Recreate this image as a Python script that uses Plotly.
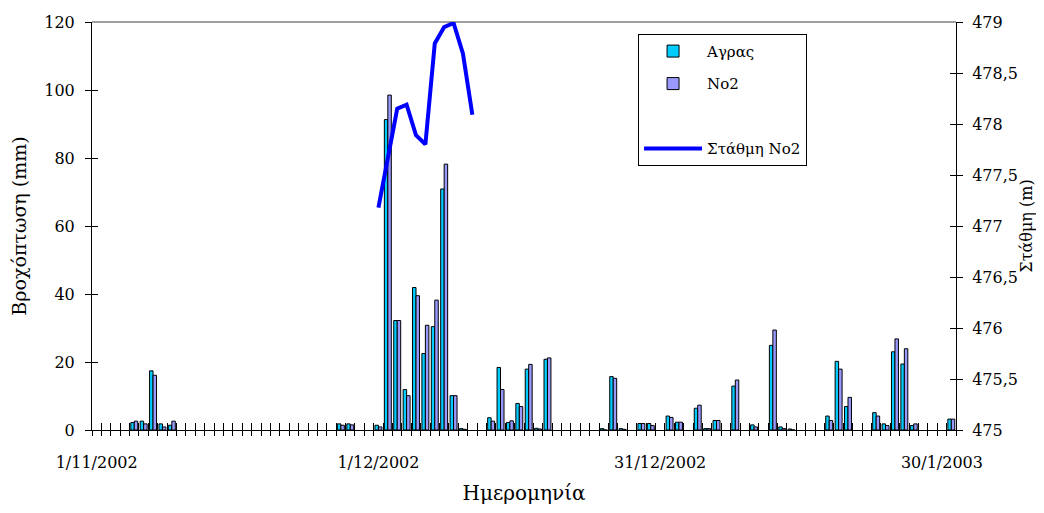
import plotly.graph_objects as go

# ---------------- data ----------------
rain_dates = [
    "2002-11-05", "2002-11-06", "2002-11-07", "2002-11-08", "2002-11-09",
    "2002-11-27", "2002-11-28",
    "2002-12-01", "2002-12-02", "2002-12-03", "2002-12-04", "2002-12-05",
    "2002-12-06", "2002-12-07", "2002-12-08", "2002-12-09", "2002-12-10",
    "2002-12-13", "2002-12-14", "2002-12-15", "2002-12-16", "2002-12-17",
    "2002-12-18", "2002-12-19", "2002-12-25", "2002-12-26", "2002-12-27",
    "2002-12-29", "2002-12-30",
    "2003-01-01", "2003-01-02", "2003-01-04", "2003-01-05", "2003-01-06",
    "2003-01-08", "2003-01-10", "2003-01-12", "2003-01-13", "2003-01-14",
    "2003-01-18", "2003-01-19", "2003-01-20", "2003-01-23", "2003-01-24",
    "2003-01-25", "2003-01-26", "2003-01-27", "2003-01-31",
]
agras = [
    2.2, 2.6, 17.4, 1.8, 1.4,
    1.8, 1.8,
    1.4, 91.3, 32.2, 11.9, 41.9,
    22.5, 30.4, 70.9, 10.1, 0.4,
    3.6, 18.4, 2.2, 7.8, 17.9,
    0.5, 20.8, 0.4, 15.7, 0.4,
    1.9, 1.9,
    4.1, 2.3, 6.4, 0.4, 2.8,
    12.9, 1.5, 24.9, 0.9, 0.3,
    4.1, 20.2, 6.9, 5.1, 1.8,
    23.0, 19.4, 1.3, 3.2,
]
no2 = [
    2.6, 1.8, 16.1, 0.9, 2.6,
    1.4, 1.5,
    0.9, 98.5, 32.2, 10.1, 39.5,
    30.8, 38.2, 78.2, 10.1, 0.2,
    2.6, 11.9, 2.7, 6.9, 19.3,
    0.3, 21.2, 0.0, 15.2, 0.2,
    1.9, 1.3,
    3.7, 2.3, 7.3, 0.4, 2.8,
    14.7, 0.9, 29.4, 0.4, 0.0,
    2.8, 17.9, 9.6, 4.1, 1.3,
    26.8, 23.9, 1.8, 3.2,
]

level_dates = [
    "2002-12-01", "2002-12-02", "2002-12-03", "2002-12-04", "2002-12-05",
    "2002-12-06", "2002-12-07", "2002-12-08", "2002-12-09", "2002-12-10",
    "2002-12-11",
]
level_no2 = [477.18, 477.65, 478.15, 478.19, 477.89, 477.80, 478.79,
             478.95, 478.99, 478.69, 478.09]

x_tick_dates = ["2002-11-01", "2002-12-01", "2002-12-31", "2003-01-30"]
x_tick_text = ["1/11/2002", "1/12/2002", "31/12/2002", "30/1/2003"]

y2_tick_vals = [475, 475.5, 476, 476.5, 477, 477.5, 478, 478.5, 479]
y2_tick_text = ["475", "475,5", "476", "476,5", "477", "477,5", "478", "478,5", "479"]

# ---------------- figure ----------------
FONT = "DejaVu Serif"
x_range = ["2002-10-31 12:00", "2003-01-31 12:00"]
DAY_MS = 86400000

fig = go.Figure()
fig.add_trace(go.Bar(
    x=rain_dates, y=agras, name="Αγρας", legendgroup="a",
    marker=dict(color="#00CCFF", line=dict(color="black", width=1)),
))
fig.add_trace(go.Bar(
    x=rain_dates, y=no2, name="Νο2", legendgroup="b",
    marker=dict(color="#9999FF", line=dict(color="black", width=1)),
))
fig.add_trace(go.Scatter(
    x=[None], y=[None], name=" ", legendgroup="c", mode="lines",
    line=dict(width=0, color="rgba(0,0,0,0)"), yaxis="y2",
))
fig.add_trace(go.Scatter(
    x=level_dates, y=level_no2, name="Στάθμη Νο2", legendgroup="d",
    mode="lines", line=dict(color="#0000FF", width=4), yaxis="y2",
))
# dummy traces for the inner half of the "cross" tick marks
fig.add_trace(go.Scatter(x=[x_tick_dates[0]], y=[None], xaxis="x3", yaxis="y3",
                         showlegend=False, hoverinfo="skip"))
fig.add_trace(go.Scatter(x=[x_tick_dates[0]], y=[None], xaxis="x3", yaxis="y4",
                         showlegend=False, hoverinfo="skip"))

# the page body has an 8px margin, so the figure is sized to fit the window
fig.update_layout(
    width=1028, height=497,
    margin=dict(l=84, r=80, t=14, b=75),
    paper_bgcolor="white", plot_bgcolor="white",
    font=dict(family=FONT, size=16, color="black"),
    barmode="group", bargap=0.26, bargroupgap=0,
    showlegend=True,
    legend=dict(
        x=0.632, y=0.971, xanchor="left", yanchor="top",
        bgcolor="white", bordercolor="black", borderwidth=1,
        font=dict(family=FONT, size=15), traceorder="grouped",
        tracegroupgap=10, itemwidth=58,
    ),
    xaxis=dict(
        type="date", range=x_range,
        tickmode="array", tickvals=x_tick_dates, ticktext=x_tick_text,
        ticks="", showgrid=False, zeroline=False,
        showline=True, linecolor="black", linewidth=1,
        minor=dict(tickmode="linear", tick0=x_range[0], dtick=DAY_MS,
                   ticks="outside", ticklen=5, tickcolor="black", tickwidth=1,
                   showgrid=False),
        ticklabelstandoff=18,
        title=dict(text="Ημερομηνία", font=dict(size=20), standoff=25),
        automargin=False,
    ),
    xaxis3=dict(
        type="date", range=x_range, overlaying="x", anchor="y3",
        tickmode="linear", tick0=x_range[0], dtick=DAY_MS,
        ticks="inside", ticklen=7, tickcolor="black", tickwidth=1,
        showticklabels=False, showgrid=False, zeroline=False, showline=False,
    ),
    yaxis=dict(
        range=[0, 120], tickmode="linear", tick0=0, dtick=20,
        ticks="outside", ticklen=6, tickcolor="black",
        showgrid=False, zeroline=False,
        showline=True, linecolor="black", linewidth=1,
        ticklabelstandoff=7,
        title=dict(text="Βροχόπτωση (mm)", font=dict(size=19), standoff=18),
        automargin=False,
    ),
    yaxis3=dict(
        range=[0, 120], overlaying="y", anchor="x3", side="left",
        tickmode="linear", tick0=0, dtick=20,
        ticks="inside", ticklen=6, tickcolor="black",
        showticklabels=False, showgrid=False, zeroline=False, showline=False,
    ),
    yaxis2=dict(
        range=[475, 479], overlaying="y", side="right", anchor="x",
        tickmode="array", tickvals=y2_tick_vals, ticktext=y2_tick_text,
        ticks="outside", ticklen=6, tickcolor="black",
        showgrid=False, zeroline=False,
        showline=True, linecolor="black", linewidth=1,
        ticklabelstandoff=6,
        title=dict(text="Στάθμη (m)", font=dict(size=16), standoff=8),
        automargin=False,
    ),
    yaxis4=dict(
        range=[475, 479], overlaying="y", side="right", anchor="x3",
        tickmode="array", tickvals=y2_tick_vals,
        ticks="inside", ticklen=6, tickcolor="black",
        showticklabels=False, showgrid=False, zeroline=False, showline=False,
    ),
    shapes=[dict(type="line", xref="x domain", yref="y domain",
                 x0=0, x1=1, y0=1, y1=1,
                 line=dict(color="#808080", width=1.5), layer="below")],
)

fig.write_html("out.html")
